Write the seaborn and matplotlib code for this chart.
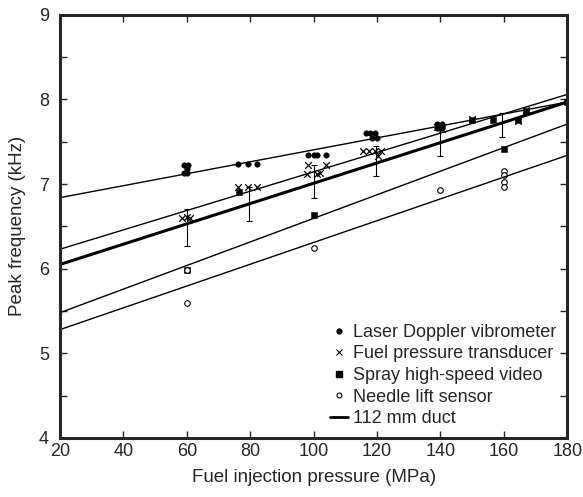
import numpy as np
import pandas as pd
import seaborn as sns
import matplotlib.pyplot as plt
from matplotlib.lines import Line2D

# --- data ---
# Laser Doppler vibrometer
ldv_x = [59.0, 60.5, 60.0, 59.0, 60.0, 76.2, 79.4, 82.2, 98.3, 101.2, 103.9, 100.0,
         116.5, 117.8, 119.4, 118.3, 120.1, 138.8, 140.4, 138.8, 140.4]
ldv_y = [7.23, 7.23, 7.18, 7.13, 7.13, 7.24, 7.24, 7.24, 7.34, 7.34, 7.34, 7.34,
         7.60, 7.60, 7.60, 7.55, 7.55, 7.71, 7.71, 7.66, 7.66]
# Fuel pressure transducer
fpt_x = [58.5, 60.0, 61.0, 76.2, 79.4, 82.2, 98.3, 103.9, 97.8, 101.2, 102.0,
         115.7, 117.5, 119.4, 121.3, 120.4, 139.0, 140.5, 150.0, 164.5, 167.0]
fpt_y = [6.60, 6.61, 6.60, 6.97, 6.97, 6.97, 7.23, 7.23, 7.12, 7.12, 7.13,
         7.39, 7.39, 7.39, 7.39, 7.33, 7.67, 7.65, 7.77, 7.75, 7.87]
# Spray high-speed video
spr_x = [60.0, 76.5, 100.0, 150.0, 156.5, 160.0, 164.5, 167.0, 180.0]
spr_y = [5.99, 6.91, 6.64, 7.76, 7.76, 7.42, 7.76, 7.86, 7.97]
# Needle lift sensor
nls_x = [60.0, 60.0, 100.0, 140.0, 160.0, 160.0, 160.0, 160.0]
nls_y = [5.59, 5.99, 6.24, 6.93, 7.15, 7.11, 7.03, 6.97]

# fitted lines (end points at 20 and 180 MPa)
fit_x = [20, 180]
ldv_fit = [6.84, 7.97]
fpt_fit = [6.23, 8.06]
spr_fit = [5.48, 7.71]
nls_fit = [5.28, 7.34]
duct_fit = [6.05, 7.97]

# 112 mm duct error bars
err_x = [60.0, 79.7, 100.0, 119.6, 139.7, 159.5]
err_lo = [6.27, 6.56, 6.835, 7.10, 7.335, 7.555]
err_hi = [6.71, 6.97, 7.22, 7.445, 7.64, 7.845]

sns.set_style('ticks')
plt.rcParams['font.family'] = ['Liberation Sans', 'DejaVu Sans']

fig = plt.figure(figsize=(5.83, 4.97), dpi=100)
ax = fig.add_axes([0.103, 0.119, 0.870, 0.851])

for yy in [ldv_fit, fpt_fit, spr_fit, nls_fit]:
    sns.lineplot(x=fit_x, y=yy, color='black', linewidth=1.0, ax=ax)
sns.lineplot(x=fit_x, y=duct_fit, color='black', linewidth=2.2, ax=ax)

mid = (np.array(err_lo) + np.array(err_hi)) / 2
half = (np.array(err_hi) - np.array(err_lo)) / 2
ax.errorbar(err_x, mid, yerr=half, fmt='none', ecolor='black', elinewidth=0.8,
            capsize=2, capthick=0.8)

sns.scatterplot(x=ldv_x, y=ldv_y, marker='o', s=16, color='black', edgecolor='black', ax=ax)
sns.scatterplot(x=fpt_x, y=fpt_y, marker='x', s=22, color='black', linewidth=0.9, ax=ax)
sns.scatterplot(x=spr_x, y=spr_y, marker='s', s=22, color='black', edgecolor='black', ax=ax)
sns.scatterplot(x=nls_x, y=nls_y, marker='o', s=16, facecolor='white', edgecolor='black',
                linewidth=0.8, ax=ax)

ax.set_xlim(20, 180)
ax.set_ylim(4, 9)
ax.set_xticks(np.arange(20, 181, 20))
ax.set_yticks(np.arange(4, 9.01, 1))
ax.set_yticks(np.arange(4.5, 9, 1), minor=True)
ax.tick_params(which='both', direction='in', top=True, right=True, length=5, width=1,
               labelsize=13)
ax.tick_params(axis='y', pad=8)
ax.tick_params(axis='x', pad=4)
for sp in ax.spines.values():
    sp.set_linewidth(2.2)
ax.set_xlabel('Fuel injection pressure (MPa)', fontsize=13.5, labelpad=6)
ax.set_ylabel('Peak frequency (kHz)', fontsize=13.5, labelpad=9)

handles = [
    Line2D([], [], marker='o', color='black', linestyle='none', markersize=3.5),
    Line2D([], [], marker='x', color='black', linestyle='none', markersize=4, markeredgewidth=0.8),
    Line2D([], [], marker='s', color='black', linestyle='none', markersize=4.5),
    Line2D([], [], marker='o', markerfacecolor='white', markeredgecolor='black',
           linestyle='none', markersize=3.5, markeredgewidth=0.8),
    Line2D([], [], color='black', linewidth=2),
]
labels = ['Laser Doppler vibrometer', 'Fuel pressure transducer', 'Spray high-speed video',
          'Needle lift sensor', '112 mm duct']
ax.legend(handles, labels, loc='lower right', frameon=False, fontsize=13,
          handlelength=1.0, handletextpad=0.3, labelspacing=0.25,
          borderaxespad=0.4, borderpad=0.2)

fig.savefig('out.png', dpi=100)
